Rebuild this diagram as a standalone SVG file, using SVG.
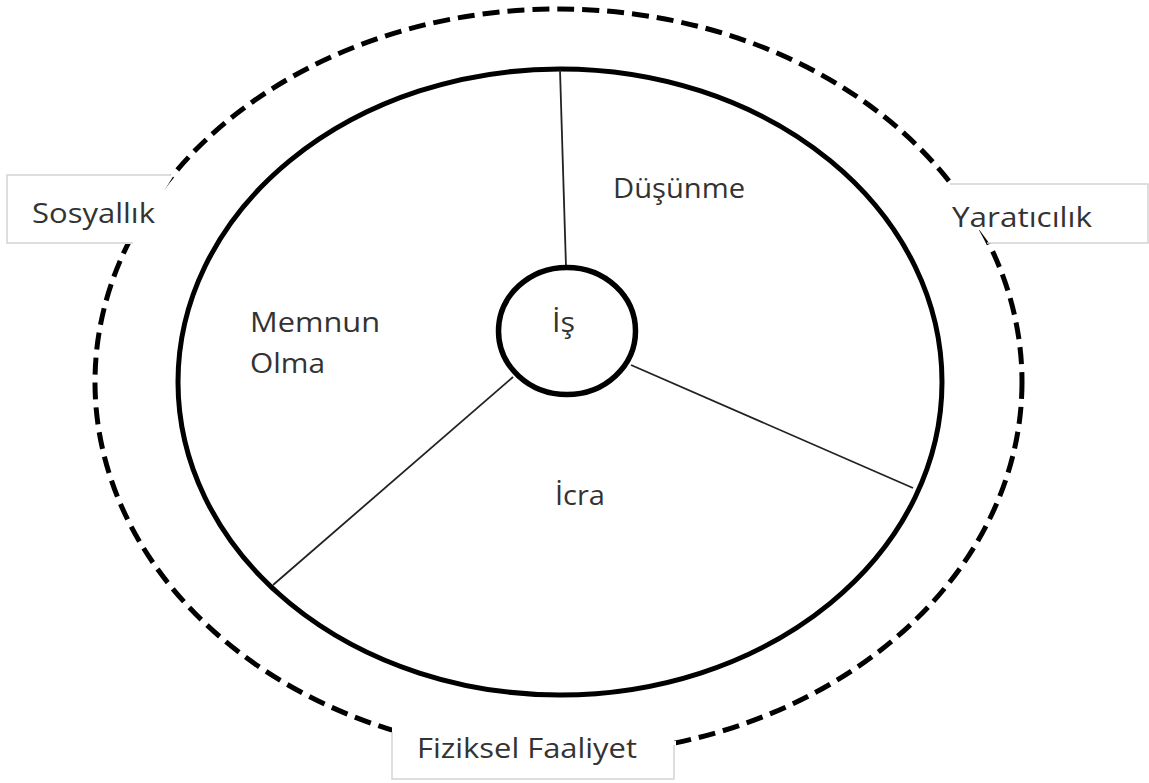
<svg xmlns="http://www.w3.org/2000/svg" width="1149" height="783" viewBox="0 0 1149 783">
<style>
.box{fill:#fff;stroke:none}
.edge{fill:none;stroke:#d4d4d4;stroke-width:1.5}
.lbl{font-family:"Open Sans","Liberation Sans",sans-serif;font-size:28px;fill:#333}
.spoke{stroke:#222;stroke-width:1.8;fill:none}
</style>
<rect width="1149" height="783" fill="#fff"/>
<g id="outer-ring"><ellipse cx="558.5" cy="382" rx="463.5" ry="373" fill="#fff" stroke="#000" stroke-width="5" stroke-dasharray="17 8"/></g>
<g id="inner-ring"><ellipse cx="560" cy="382" rx="382" ry="313" fill="#fff" stroke="#000" stroke-width="5"/></g>
<g id="connectors">
<line class="spoke" x1="560" y1="70" x2="566" y2="267"/>
<line class="spoke" x1="631" y1="365" x2="913" y2="488"/>
<line class="spoke" x1="513" y1="377" x2="273" y2="585"/>
</g>
<g id="node-is"><ellipse cx="567" cy="331" rx="68.5" ry="63.5" fill="#fff" stroke="#000" stroke-width="5.5"/>
<text class="lbl" x="552" y="332" textLength="23" lengthAdjust="spacingAndGlyphs">İş</text></g>
<g id="node-dusunme"><text class="lbl" x="613" y="198" textLength="132" lengthAdjust="spacingAndGlyphs">Düşünme</text></g>
<g id="node-memnun"><text class="lbl" x="250" y="332" textLength="130" lengthAdjust="spacingAndGlyphs">Memnun</text>
<text class="lbl" x="250" y="373" textLength="75" lengthAdjust="spacingAndGlyphs">Olma</text></g>
<g id="node-icra"><text class="lbl" x="555" y="505" textLength="50" lengthAdjust="spacingAndGlyphs">İcra</text></g>
<g id="label-sosyallik">
<path class="box" d="M7 175 H174 L131 244 H7 Z"/>
<path class="edge" d="M171 175 H7 V243 H133"/>
<text class="lbl" x="32" y="223" textLength="123" lengthAdjust="spacingAndGlyphs">Sosyallık</text></g>
<g id="label-yaraticilik">
<path class="box" d="M946 184 H1148 V243 H989 Z"/>
<path class="edge" d="M950 184 H1148 V243 H987"/>
<text class="lbl" x="952" y="227" textLength="140" lengthAdjust="spacingAndGlyphs">Yaratıcılık</text></g>
<g id="label-fiziksel">
<path class="box" d="M392 729 Q535 752 676 741 V779 H392 Z"/>
<rect class="box" x="392" y="712" width="282" height="67"/>
<path class="edge" d="M392 732 V779 H674 V745"/>
<text class="lbl" x="417" y="758" textLength="220" lengthAdjust="spacingAndGlyphs">Fiziksel Faaliyet</text></g>
</svg>
